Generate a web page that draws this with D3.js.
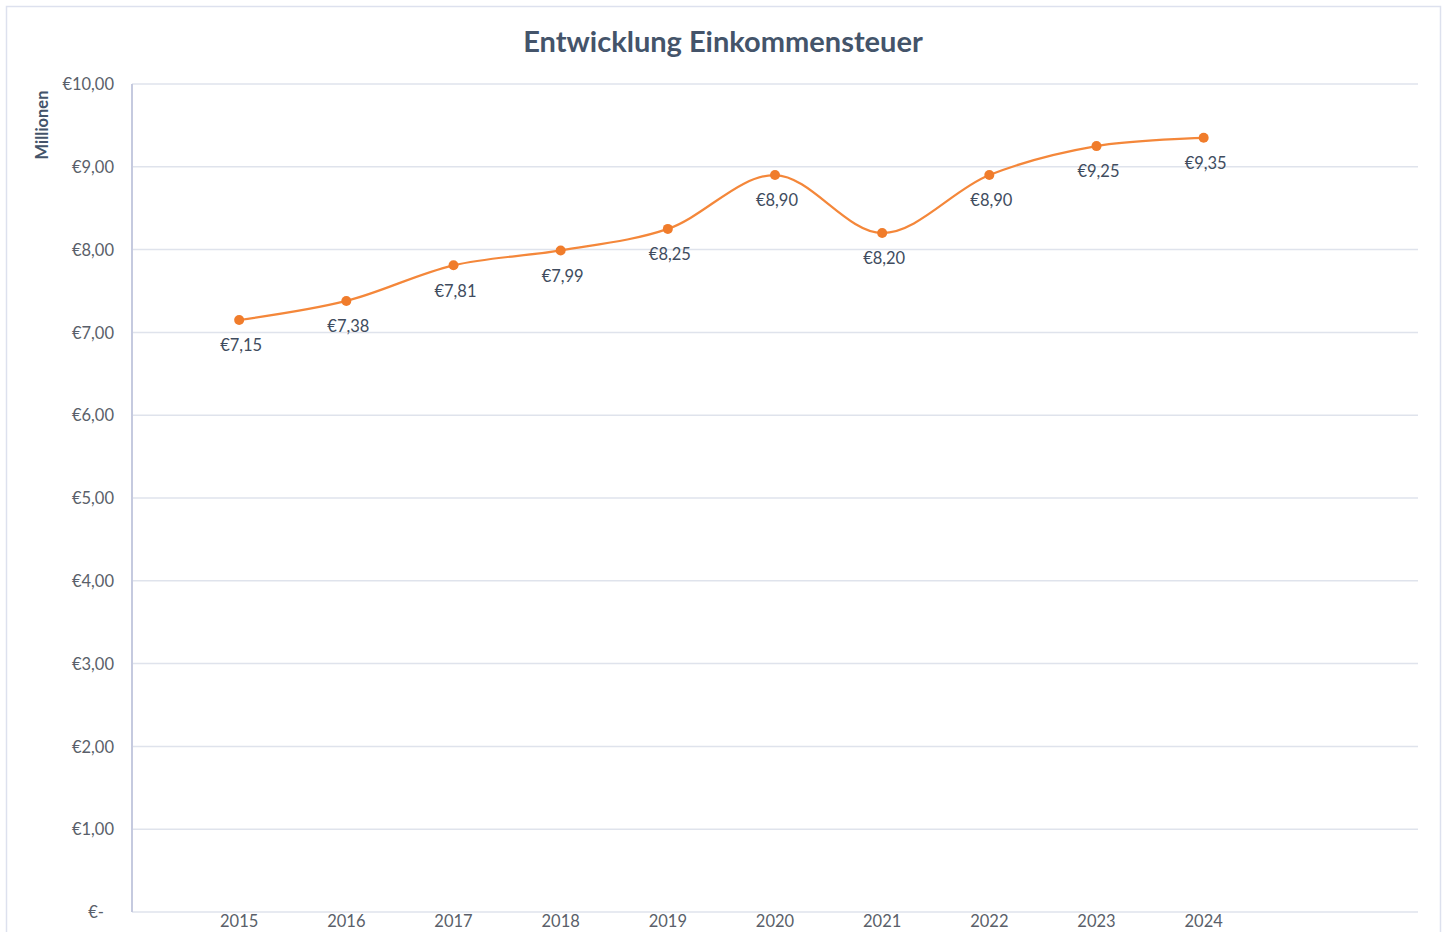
<!DOCTYPE html>
<html>
<head>
<meta charset="utf-8">
<script src="https://cdn.jsdelivr.net/npm/d3@7"></script>
<style>
  html, body { margin: 0; padding: 0; background: #fff; }
  svg { display: block; font-family: Lato, "Open Sans", sans-serif; }
</style>
</head>
<body>
<div id="chart"></div>
<script>
// chart data
const YEARS  = ["2015","2016","2017","2018","2019","2020","2021","2022","2023","2024"];
const VALUES = [7.15, 7.38, 7.81, 7.99, 8.25, 8.90, 8.20, 8.90, 9.25, 9.35];
const LABELS = ["€7,15","€7,38","€7,81","€7,99","€8,25","€8,90","€8,20","€8,90","€9,25","€9,35"];
const Y_TICKS = [0, 1, 2, 3, 4, 5, 6, 7, 8, 9, 10];
const Y_TICK_LABELS = ["€-","€1,00","€2,00","€3,00","€4,00","€5,00","€6,00","€7,00","€8,00","€9,00","€10,00"];

const W = 1446, H = 932;
const margin = { top: 84, right: 28, bottom: 20, left: 132 };
const plotW = W - margin.left - margin.right;
const plotH = H - margin.top - margin.bottom;

const svg = d3.select("#chart").append("svg")
  .attr("width", W).attr("height", H);

// outer frame
svg.append("rect")
  .attr("x", 6.5).attr("y", 6.5)
  .attr("width", 1434).attr("height", 940)
  .attr("fill", "#fff")
  .attr("stroke", "#dde1ee").attr("stroke-width", 1.5);

// title
svg.append("text")
  .attr("x", 723).attr("y", 52)
  .attr("text-anchor", "middle")
  .style("font-size", "29px").style("font-weight", "bold")
  .style("fill", "#44546a")
  .text("Entwicklung Einkommensteuer");

const g = svg.append("g").attr("transform", `translate(${margin.left},${margin.top})`);

// x: 12 slots, years sit at slot 1..10
const x = d3.scaleLinear().domain([0, 12]).range([0, plotW]);
const y = d3.scaleLinear().domain([0, 10]).range([plotH, 0]);

// gridlines
g.append("g")
  .selectAll("line")
  .data(Y_TICKS)
  .join("line")
    .attr("x1", 0).attr("x2", plotW)
    .attr("y1", d => y(d)).attr("y2", d => y(d))
    .attr("stroke", "#dfe3ec").attr("stroke-width", 1.5);

// y axis line
g.append("line")
  .attr("x1", 0).attr("x2", 0)
  .attr("y1", 0).attr("y2", plotH)
  .attr("stroke", "#c5cadf").attr("stroke-width", 2);

// y tick labels ("€-" sits further left, accounting format)
g.append("g")
  .selectAll("text")
  .data(Y_TICKS)
  .join("text")
    .attr("x", d => d === 0 ? -28 : -18)
    .attr("y", d => y(d) + 2)
    .attr("text-anchor", "end")
    .attr("dominant-baseline", "middle")
    .style("font-size", "16.5px").style("fill", "#5a5f6a")
    .text((d, i) => Y_TICK_LABELS[i]);

// y axis title
svg.append("text")
  .attr("transform", "translate(48,125) rotate(-90)")
  .attr("text-anchor", "middle")
  .style("font-size", "16.5px").style("font-weight", "bold")
  .style("fill", "#44546a")
  .text("Millionen");

// x tick labels
g.append("g")
  .selectAll("text")
  .data(YEARS)
  .join("text")
    .attr("x", (d, i) => x(i + 1))
    .attr("y", plotH + 15)
    .attr("text-anchor", "middle")
    .style("font-size", "16.5px").style("fill", "#5a5f6a")
    .text(d => d);

// line
const line = d3.line()
  .x((d, i) => x(i + 1))
  .y(d => y(d))
  .curve(d3.curveCatmullRom.alpha(0.5));

g.append("path")
  .datum(VALUES)
  .attr("d", line)
  .attr("fill", "none")
  .attr("stroke", "#f4873a").attr("stroke-width", 2.2);

// markers
g.append("g")
  .selectAll("circle")
  .data(VALUES)
  .join("circle")
    .attr("cx", (d, i) => x(i + 1))
    .attr("cy", d => y(d))
    .attr("r", 5)
    .attr("fill", "#f07c2b");

// data labels
g.append("g")
  .selectAll("text")
  .data(VALUES)
  .join("text")
    .attr("x", (d, i) => x(i + 1) + 2)
    .attr("y", d => y(d) + 27)
    .attr("text-anchor", "middle")
    .attr("dominant-baseline", "middle")
    .style("font-size", "16.5px").style("fill", "#404c5e")
    .text((d, i) => LABELS[i]);
</script>
</body>
</html>
